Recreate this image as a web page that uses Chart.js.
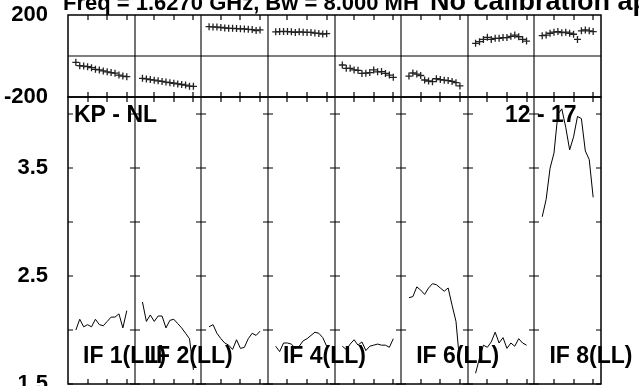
<!DOCTYPE html>
<html>
<head>
<meta charset="utf-8">
<script src="https://cdn.jsdelivr.net/npm/chart.js@4/dist/chart.umd.min.js"></script>
<style>
  body { margin: 0; background: #fff; }
  #wrap { position: relative; width: 639px; height: 386px; overflow: hidden; }
  canvas { position: absolute; left: 0; top: 0; }
</style>
</head>
<body>
<div id="wrap">
  <canvas id="amp-chart" width="639" height="386"></canvas>
  <canvas id="phase-chart" width="639" height="386"></canvas>
</div>
<script>
// channels plotted inside every IF panel (panel spans 0..17)
const channels = [2, 3, 4, 5, 6, 7, 8, 9, 10, 11, 12, 13, 14, 15];
const ifNames = ["IF 1(LL)", "IF 2(LL)", "IF 3(LL)", "IF 4(LL)", "IF 5(LL)", "IF 6(LL)", "IF 7(LL)", "IF 8(LL)"];
const shownIfLabels = [0, 1, 3, 5, 7];
const channelTicks = [5, 10, 15];

// phase (degrees), top panel
const phaseIF1 = [-31, -47, -49, -52, -57, -65, -68, -73, -77, -81, -84, -93, -98, -101];
const phaseIF2 = [-109, -112, -115, -118, -121, -124, -127, -130, -133, -136, -139, -142, -147, -148];
const phaseIF3 = [143, 142, 141, 139, 137, 135, 135, 134, 133, 132, 130, 129, 124, 127];
const phaseIF4 = [118, 119, 120, 119, 118, 115, 118, 116, 115, 115, 112, 110, 107, 109];
const phaseIF5 = [-44, -60, -60, -68, -70, -85, -84, -81, -68, -77, -76, -85, -93, -104];
const phaseIF6 = [-98, -83, -88, -95, -117, -122, -125, -111, -115, -118, -120, -124, -130, -146];
const phaseIF7 = [62, 70, 81, 91, 81, 86, 86, 90, 90, 96, 102, 94, 81, 73];
const phaseIF8 = [99, 102, 111, 116, 119, 114, 116, 111, 106, 81, 123, 127, 123, 119];

// amplitude, bottom panel
const ampIF1 = [2.00, 2.10, 2.03, 2.05, 2.03, 2.10, 2.05, 2.04, 2.08, 2.12, 2.12, 2.15, 2.02, 2.18];
const ampIF2 = [2.26, 2.08, 2.14, 2.08, 2.13, 2.13, 2.02, 2.09, 2.10, 2.06, 2.02, 1.97, 1.92, 1.63];
const ampIF3 = [2.03, 2.05, 1.97, 1.92, 1.88, 1.86, 1.82, 1.91, 1.83, 1.84, 1.92, 1.97, 1.95, 1.99];
const ampIF4 = [1.85, 1.80, 1.88, 1.88, 1.87, 1.83, 1.85, 1.90, 1.92, 1.95, 1.98, 1.97, 1.93, 1.85];
const ampIF5 = [1.85, 1.82, 1.87, 1.91, 1.86, 1.89, 1.81, 1.85, 1.86, 1.87, 1.86, 1.86, 1.84, 1.92];
const ampIF6 = [2.30, 2.31, 2.40, 2.37, 2.33, 2.39, 2.43, 2.42, 2.39, 2.36, 2.39, 2.23, 2.08, 1.68];
const ampIF7 = [1.60, 1.74, 1.86, 1.84, 1.89, 1.98, 1.88, 1.93, 1.83, 1.88, 1.85, 1.92, 1.88, 1.86];
const ampIF8 = [3.05, 3.21, 3.50, 3.64, 4.00, 4.05, 3.88, 3.67, 3.79, 3.98, 3.96, 3.66, 3.58, 3.23];

const phaseTicks = [-200, 200];
const ampTickValues = [1.5, 2.0, 2.5, 3.0, 3.5, 4.0];
const ampTickLabels = ["1.5", "", "2.5", "", "3.5", ""];

const phaseSeries = [phaseIF1, phaseIF2, phaseIF3, phaseIF4, phaseIF5, phaseIF6, phaseIF7, phaseIF8];
const ampSeries = [ampIF1, ampIF2, ampIF3, ampIF4, ampIF5, ampIF6, ampIF7, ampIF8];

const PANEL = 17;
const FONT = "'Liberation Sans', Arial, sans-serif";

function toPoints(values, k) {
  return values.map((v, i) => ({ x: k * PANEL + channels[i], y: v }));
}

// frame, IF separators and inward tick marks
function drawFrame(chart, yTicks, zeroLine) {
  const { ctx, chartArea: a } = chart;
  const x = chart.scales.x;
  const y = chart.scales.y;
  const tl = 5;
  ctx.save();
  ctx.strokeStyle = "#444";
  ctx.lineWidth = 1.5;
  for (let k = 1; k < ifNames.length; k++) {
    const px = Math.round(x.getPixelForValue(k * PANEL));
    ctx.beginPath();
    ctx.moveTo(px, a.top);
    ctx.lineTo(px, a.bottom);
    ctx.stroke();
  }
  ctx.strokeStyle = "#000";
  ctx.lineWidth = 1.2;
  if (zeroLine) {
    const py = Math.round(y.getPixelForValue(0));
    ctx.beginPath();
    ctx.moveTo(a.left, py);
    ctx.lineTo(a.right, py);
    ctx.stroke();
  }
  ctx.beginPath();
  for (let k = 0; k < ifNames.length; k++) {
    channelTicks.forEach((c) => {
      const px = Math.round(x.getPixelForValue(k * PANEL + c));
      ctx.moveTo(px, a.top);
      ctx.lineTo(px, a.top + tl);
      ctx.moveTo(px, a.bottom);
      ctx.lineTo(px, a.bottom - tl);
    });
  }
  yTicks.forEach((v) => {
    const py = Math.round(y.getPixelForValue(v));
    for (let k = 0; k <= ifNames.length; k++) {
      const px = Math.round(x.getPixelForValue(k * PANEL));
      if (k > 0) { ctx.moveTo(px - tl, py); ctx.lineTo(px, py); }
      if (k < ifNames.length) { ctx.moveTo(px, py); ctx.lineTo(px + tl, py); }
    }
  });
  ctx.stroke();
  ctx.lineWidth = 1.5;
  ctx.strokeRect(a.left, a.top, a.right - a.left, a.bottom - a.top);
  ctx.restore();
}

const baseX = {
  type: "linear",
  min: 0,
  max: PANEL * ifNames.length,
  display: false,
};

function yAxis(min, max, tickValues, labels) {
  return {
    min: min,
    max: max,
    grid: { display: false },
    border: { display: false },
    afterBuildTicks: (scale) => {
      scale.ticks = tickValues.map((v) => ({ value: v }));
    },
    afterFit: (scale) => {
      scale.width = 68;
      // keep the tick labels from pushing the plot area in
      scale.paddingTop = 0;
      scale.paddingBottom = 0;
    },
    ticks: {
      color: "#000",
      padding: 12,
      font: { family: FONT, size: 22, weight: "bold" },
      callback: (v) => labels(v),
    },
  };
}

const ampCanvas = document.querySelector("#amp-chart");
new Chart(ampCanvas, {
  type: "line",
  data: {
    datasets: ampSeries.map((vals, k) => ({
      label: ifNames[k],
      data: toPoints(vals, k),
      borderColor: "#000",
      borderWidth: 1,
      pointRadius: 0,
      tension: 0,
      fill: false,
    })),
  },
  options: {
    responsive: false,
    animation: false,
    layout: { autoPadding: false, padding: { left: 0, right: 38, top: 97, bottom: 2 } },
    plugins: { legend: { display: false }, tooltip: { enabled: false } },
    scales: {
      x: baseX,
      y: yAxis(1.5, 4.16, ampTickValues, (v) => ampTickLabels[ampTickValues.indexOf(v)] || ""),
    },
  },
  plugins: [
    {
      id: "ampFrame",
      afterDatasetsDraw(chart) {
        drawFrame(chart, ampTickValues, false);
        const { ctx } = chart;
        const x = chart.scales.x;
        ctx.save();
        ctx.fillStyle = "#000";
        ctx.font = "bold 23px " + FONT;
        ctx.textBaseline = "middle";
        ctx.fillText("KP - NL", 74, 116);
        ctx.fillText("12 - 17", 505, 116);
        shownIfLabels.forEach((k) => {
          ctx.fillText(ifNames[k], x.getPixelForValue(k * PANEL) + 15, 357);
        });
        ctx.restore();
      },
    },
  ],
});

const phaseCanvas = document.querySelector("#phase-chart");
new Chart(phaseCanvas, {
  type: "scatter",
  data: {
    datasets: phaseSeries.map((vals, k) => ({
      label: ifNames[k],
      data: toPoints(vals, k),
      pointStyle: "cross",
      pointRadius: 3.5,
      borderColor: "#222",
      borderWidth: 1.3,
      showLine: false,
    })),
  },
  options: {
    responsive: false,
    animation: false,
    layout: { autoPadding: false, padding: { left: 0, right: 38, top: 15, bottom: 289 } },
    plugins: { legend: { display: false }, tooltip: { enabled: false } },
    scales: {
      x: baseX,
      y: yAxis(-200, 200, phaseTicks, (v) => String(v)),
    },
  },
  plugins: [
    {
      id: "phaseFrame",
      beforeDatasetsDraw(chart) {
        drawFrame(chart, [], true);
      },
      afterDraw(chart) {
        const { ctx } = chart;
        ctx.save();
        ctx.fillStyle = "#000";
        ctx.textBaseline = "alphabetic";
        ctx.font = "bold 22px " + FONT;
        ctx.fillText("Freq = 1.6270 GHz, Bw = 8.000 MH", 63, 10);
        ctx.font = "bold 27px " + FONT;
        ctx.fillText("No calibration applied", 430, 10);
        ctx.restore();
      },
    },
  ],
});
</script>
</body>
</html>
